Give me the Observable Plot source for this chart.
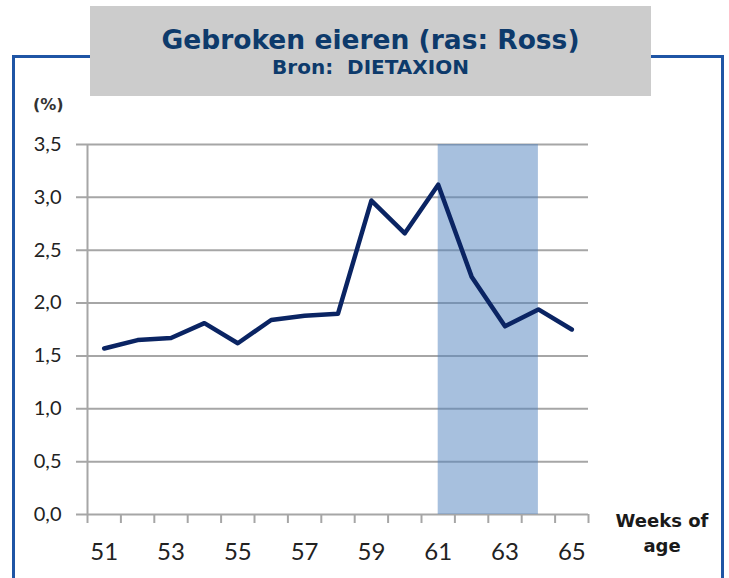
<!DOCTYPE html>
<html>
<head>
<meta charset="utf-8">
<script src="https://cdn.jsdelivr.net/npm/d3@7"></script>
<script src="https://cdn.jsdelivr.net/npm/@observablehq/plot@0.6"></script>
<style>
  html, body { margin: 0; padding: 0; background: #fff; }
  #wrap { position: relative; width: 729px; height: 578px; overflow: hidden; }
  #wrap svg { position: absolute; left: 0; top: 0; }
  #border { position: absolute; left: 12px; top: 55px; width: 706px; height: 620px; border: 3px solid #1f55a5; box-sizing: content-box; }
  #titlebox { position: absolute; left: 90px; top: 6px; width: 561px; height: 90px; background: #cccccc; text-align: center; color: #0d3a6b; font-family: "DejaVu Sans", sans-serif; font-weight: bold; }
  #t1 { font-size: 26.5px; margin-top: 18px; line-height: 32px; }
  #t2 { font-size: 20px; line-height: 22px; }
  #unit { position: absolute; left: 33px; top: 95px; font-family: "DejaVu Sans", sans-serif; font-weight: bold; font-size: 16px; color: #333; }
  #xlab { position: absolute; left: 600px; top: 508px; width: 124px; text-align: center; font-family: "DejaVu Sans", sans-serif; font-weight: bold; font-size: 18px; line-height: 25px; color: #1a1a1a; }
</style>
</head>
<body>
<div id="wrap"></div>
<script>
const weeks = [51, 52, 53, 54, 55, 56, 57, 58, 59, 60, 61, 62, 63, 64, 65];
const broken = [1.57, 1.65, 1.67, 1.81, 1.62, 1.84, 1.88, 1.90, 2.97, 2.66, 3.12, 2.25, 1.78, 1.94, 1.75];
const yTicks = [0, 0.5, 1.0, 1.5, 2.0, 2.5, 3.0, 3.5];
const xLabels = [51, 53, 55, 57, 59, 61, 63, 65];
const boundaries = [50.5, 51.5, 52.5, 53.5, 54.5, 55.5, 56.5, 57.5, 58.5, 59.5, 60.5, 61.5, 62.5, 63.5, 64.5, 65.5];
const highlight = [{start: 61, end: 64}];

const data = weeks.map((w, i) => ({week: w, value: broken[i]}));
const fmt = d => d.toFixed(1).replace(".", ",");

const chart = Plot.plot({
  width: 729,
  height: 578,
  marginLeft: 87,
  marginRight: 141,
  marginTop: 144,
  marginBottom: 64,
  style: {fontFamily: "Lato, sans-serif", fontSize: "20px", color: "#222", background: "transparent"},
  x: {domain: [50.5, 65.5]},
  y: {domain: [0, 3.5]},
  marks: [
    Plot.ruleY(yTicks, {y: d => d, stroke: "#a6a6a6", strokeWidth: 2, insetLeft: -11}),
    Plot.ruleX([50.5], {x: d => d, y1: 0, y2: 3.5, stroke: "#a6a6a6", strokeWidth: 2}),
    Plot.ruleX(boundaries, {x: d => d, y1: 0, y2: 0, insetBottom: -9, stroke: "#a6a6a6", strokeWidth: 2}),
    Plot.rect(highlight, {x1: "start", x2: "end", y1: 0, y2: 3.5, fill: "#4f81bd", fillOpacity: 0.5}),
    Plot.line(data, {x: "week", y: "value", stroke: "#0a2463", strokeWidth: 4.5, strokeLinejoin: "round", strokeLinecap: "round"}),
    Plot.axisY(yTicks, {tickSize: 0, tickPadding: 26, tickFormat: fmt, label: null, fontSize: 20}),
    Plot.axisX(xLabels, {tickSize: 0, tickPadding: 28, tickFormat: d => String(d), label: null, fontSize: 24})
  ]
});

const wrap = document.getElementById("wrap");
wrap.appendChild(chart);
wrap.insertAdjacentHTML("beforeend",
  '<div id="border"></div>' +
  '<div id="titlebox"><div id="t1">Gebroken eieren (ras: Ross)</div><div id="t2">Bron:&nbsp; DIETAXION</div></div>' +
  '<div id="unit">(%)</div>' +
  '<div id="xlab">Weeks of<br>age</div>');
</script>
</body>
</html>
